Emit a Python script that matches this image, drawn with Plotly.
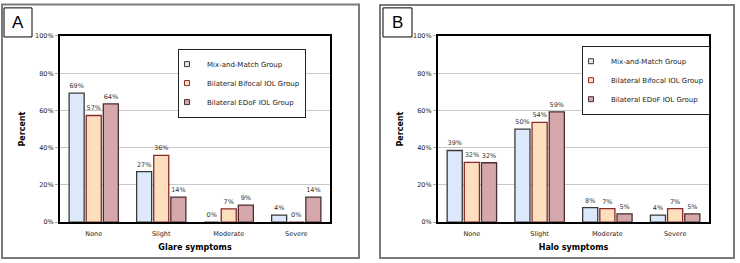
import plotly.graph_objects as go

categories = ["None", "Slight", "Moderate", "Severe"]
groups = ["Mix-and-Match Group", "Bilateral Bifocal IOL Group", "Bilateral EDoF IOL Group"]

glare_mix = [69.3, 27.1, 0.0, 3.8]
glare_bifocal = [57.3, 35.9, 7.1, 0.0]
glare_edof = [63.5, 13.5, 9.2, 13.5]
glare_mix_lbl = ["69%", "27%", "0%", "4%"]
glare_bifocal_lbl = ["57%", "36%", "7%", "0%"]
glare_edof_lbl = ["64%", "14%", "9%", "14%"]

halo_mix = [38.5, 50.0, 7.8, 3.8]
halo_bifocal = [32.1, 53.6, 7.3, 7.3]
halo_edof = [31.9, 59.2, 4.5, 4.5]
halo_mix_lbl = ["39%", "50%", "8%", "4%"]
halo_bifocal_lbl = ["32%", "54%", "7%", "7%"]
halo_edof_lbl = ["32%", "59%", "5%", "5%"]

y_ticks = [0, 20, 40, 60, 80, 100]
y_tick_text = ["0%", "20%", "40%", "60%", "80%", "100%"]

fills = ["#DCE9FB", "#FDDFBD", "#D5A7AB"]
edges = ["#3a3a3a", "#8a2a2a", "#4a2f30"]

FONT = "DejaVu Sans"
W, H = 740, 263

fig = go.Figure()

panels = [
    ("x", "y", "legend", [glare_mix, glare_bifocal, glare_edof],
     [glare_mix_lbl, glare_bifocal_lbl, glare_edof_lbl]),
    ("x2", "y2", "legend2", [halo_mix, halo_bifocal, halo_edof],
     [halo_mix_lbl, halo_bifocal_lbl, halo_edof_lbl]),
]
for xa, ya, lg, vals, lbls in panels:
    for i in range(3):
        fig.add_trace(go.Bar(
            x=categories, y=vals[i], name=groups[i], text=lbls[i],
            textposition="outside", cliponaxis=False,
            textfont=dict(family=FONT, size=6.5, color="#333333"),
            marker=dict(color=fills[i], line=dict(color=edges[i], width=1.3)),
            xaxis=xa, yaxis=ya, showlegend=False,
            hoverinfo="skip",
        ))
    # small square legend keys
    for i in range(3):
        fig.add_trace(go.Scatter(
            x=[None], y=[None], mode="markers", name=groups[i],
            marker=dict(symbol="square", size=5, color=fills[i],
                        line=dict(color=edges[i], width=1)),
            xaxis=xa, yaxis=ya, legend=lg, legendgroup=lg + str(i),
            showlegend=True, hoverinfo="skip",
        ))

ydom = [1 - 225 / H, 1 - 33 / H]
common_x = dict(
    showgrid=False, showline=True, mirror=True, linewidth=2, linecolor="black",
    tickfont=dict(family=FONT, size=6.5, color="#222222"), ticks="",
    ticklabelstandoff=4,
)
common_y = dict(
    range=[0, 100], tickvals=y_ticks, ticktext=y_tick_text,
    showgrid=True, gridcolor="#c8c8c8", gridwidth=1,
    showline=True, mirror=True, linewidth=2, linecolor="black",
    ticks="outside", ticklen=3, tickcolor="#aaaaaa",
    tickfont=dict(family=FONT, size=6.5, color="#222222"),
    title=dict(text="<b>Percent</b>", font=dict(family=FONT, size=8, color="black"), standoff=8),
    zeroline=False,
)

legend_common = dict(
    font=dict(family=FONT, size=7, color="#222222"),
    bgcolor="white", bordercolor="#222222", borderwidth=1,
    tracegroupgap=0, itemwidth=30, xanchor="left", yanchor="top",
    traceorder="grouped", indentation=-12,
)

fig.update_layout(
    width=W, height=H, margin=dict(l=0, r=0, t=0, b=0),
    paper_bgcolor="white", plot_bgcolor="white",
    barmode="group", bargap=0.24, bargroupgap=0.12,
    xaxis=dict(domain=[60 / W, 330 / W], anchor="y",
               title=dict(text="<b>Glare symptoms</b>", font=dict(family=FONT, size=8, color="black"), standoff=7),
               **common_x),
    yaxis=dict(domain=ydom, anchor="x", **common_y),
    xaxis2=dict(domain=[438 / W, 709 / W], anchor="y2",
                title=dict(text="<b>Halo symptoms</b>", font=dict(family=FONT, size=8, color="black"), standoff=7),
                **common_x),
    yaxis2=dict(domain=ydom, anchor="x2", **common_y),
    legend=dict(x=178 / W, y=1 - 46 / H, **legend_common),
    legend2=dict(x=582 / W, y=1 - 43 / H, **legend_common),
    showlegend=True,
)

# panel frames
fig.add_shape(type="rect", xref="paper", yref="paper",
              x0=2 / W, x1=359 / W, y0=1 - 262 / H, y1=1 - 0.5 / H,
              line=dict(color="#7a7a7a", width=2))
fig.add_shape(type="rect", xref="paper", yref="paper",
              x0=380 / W, x1=734 / W, y0=1 - 262 / H, y1=1 - 1 / H,
              line=dict(color="#7a7a7a", width=2))
# panel letter boxes
for x0, x1, letter in [(4, 32, "A"), (383, 412, "B")]:
    fig.add_shape(type="rect", xref="paper", yref="paper",
                  x0=x0 / W, x1=x1 / W, y0=1 - 34 / H, y1=1 - 4 / H,
                  line=dict(color="black", width=1), fillcolor="white")
    fig.add_annotation(xref="paper", yref="paper", x=(x0 + x1) / 2 / W, y=1 - 19 / H,
                       xanchor="center", yanchor="middle",
                       text=letter, showarrow=False,
                       font=dict(family="Liberation Sans", size=17, color="black"))

fig.write_html("out.html")
